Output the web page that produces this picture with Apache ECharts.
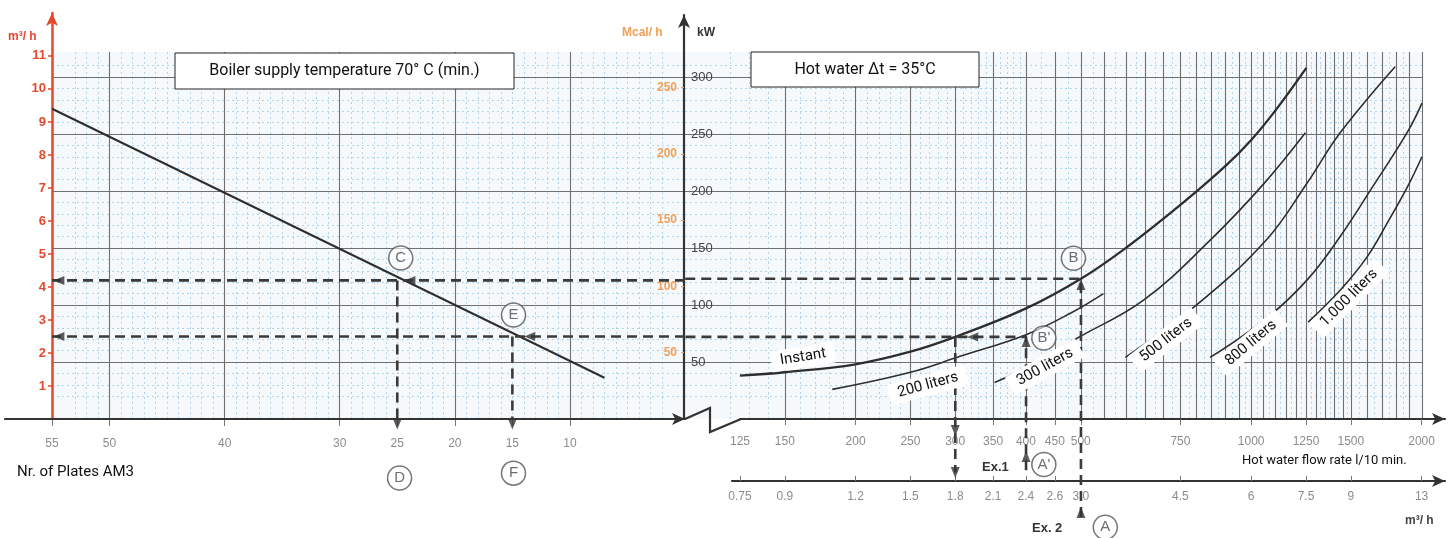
<!DOCTYPE html>
<html><head><meta charset="utf-8">
<script src="https://cdn.jsdelivr.net/npm/echarts@6/dist/echarts.min.js"></script>
<style>html,body{margin:0;padding:0;background:#fff}#c{width:1453px;height:538px}</style>
</head><body><div id="c"></div>
<script>
// ---------- data ----------
const plateTicks = [55, 50, 40, 30, 25, 20, 15, 10];
const boilerFlowTicks = [1, 2, 3, 4, 5, 6, 7, 8, 9, 10, 11];
const kWTicks = [50, 100, 150, 200, 250, 300];
const mcalTicks = [50, 100, 150, 200, 250];
const flowTicks = [125, 150, 200, 250, 300, 350, 400, 450, 500, 750, 1000, 1250, 1500, 2000];
const m3hTickLabels = ['0.75', '0.9', '1.2', '1.5', '1.8', '2.1', '2.4', '2.6', '3.0', '4.5', '6', '7.5', '9', '13'];

// plates (x) vs boiler flow m3/h (y)
const platesLine = [[55, 9.4], [7, 1.25]];

// hot water flow l/10 min (x) vs kW (y)
const instant = [[125, 38], [150, 41], [200, 48], [250, 59], [300, 72], [400, 97], [500, 123], [600, 150], [750, 188], [900, 222], [1000, 245], [1100, 270], [1250, 308]];
const liters200 = [[182, 26], [250, 41], [306, 55], [400, 74], [480, 93], [548, 110]];
const liters300 = [[352, 32], [420, 50], [493, 71], [644, 104], [850, 158], [1050, 206], [1245, 251]];
const liters500 = [[599, 54], [800, 100], [1062, 157], [1254, 207], [1434, 251], [1793, 309]];
const liters800 = [[845, 54], [1067, 89], [1254, 122], [1434, 160], [1638, 204], [1887, 252], [2000, 277]];
const liters1000 = [[1259, 85], [1434, 113], [1599, 142], [1737, 172], [1887, 204], [2000, 230]];

// worked examples
const ex2Right = [[500, -86], [500, 123], [100, 123]];
const ex2Left = [[0, 4.2], [55, 4.2]];
const ex2Down = [[25, 4.2], [25, 0]];
const ex1Right = [[400, -45], [400, 72], [100, 72]];
const ex1Down = [[300, 72], [300, -47]];
const ex1Left = [[0, 2.5], [55, 2.5]];
const ex1DownLeft = [[15, 2.5], [15, 0]];

// grid line positions
const flowGridMajor = [];
for (let v = 150; v <= 1500; v += 50) flowGridMajor.push(v);
for (let v = 1600; v <= 2000; v += 100) flowGridMajor.push(v);
const flowGridMinor = [];
for (let v = 110; v < 400; v += 10) if (v % 50 !== 0) flowGridMinor.push(v);
for (let v = 425; v < 1500; v += 50) flowGridMinor.push(v);
for (let v = 1550; v < 2000; v += 100) flowGridMinor.push(v);
const kWMinor = [];
for (let v = 10; v <= 320; v += 10) if (v % 50 !== 0) kWMinor.push(v);
const plateMinor = [];
for (let v = 1; v < 55; v += 1) if (v % 10 !== 0) plateMinor.push(v);

// ---------- styles ----------
const DARK = '#707070';
const MINOR = '#b2d5eb';
const RED = '#e5492d';
const ORANGE = '#f2a055';
const TICKGRAY = '#8c8c8c';
const NUMFONT = "'Liberation Sans', Arial, sans-serif";
const TXTFONT = "Roboto, 'Noto Sans', sans-serif";
const BG = '#f6f9fc';

function majorSplit() { return { show: true, showMinLine: false, showMaxLine: false, lineStyle: { color: DARK, width: 1.1 } }; }
function minorSplit() { return { show: true, showMinLine: false, showMaxLine: false, lineStyle: { color: MINOR, width: 1, type: [2, 3] } }; }
function nearestIdx(v) {
  let best = 0, bd = 1e9;
  flowTicks.forEach((t, i) => { const d = Math.abs(Math.log(v / t)); if (d < bd) { bd = d; best = i; } });
  return best;
}

const chart = echarts.init(document.getElementById('c'), null, { renderer: 'canvas' });

const grids = [
  { left: 52, top: 52, width: 633, height: 367, show: true, backgroundColor: BG, borderWidth: 0 },   // 0 left panel
  { left: 685, top: 52, width: 737, height: 367, show: true, backgroundColor: BG, borderWidth: 0 },  // 1 right panel
  { left: 52, top: 13, width: 1, height: 406 },   // 2 red m3/h axis
  { left: 684, top: 15, width: 1, height: 404 },  // 3 kW / Mcal axis
  { left: 5, top: 52, width: 680, height: 367 },  // 4 left x axis line
  { left: 740, top: 52, width: 705, height: 367 },// 5 flow axis l/10min
  { left: 732, top: 52, width: 713, height: 429 } // 6 flow axis m3/h
];

const xAxes = [
  // 0 plates labels
  { gridIndex: 0, type: 'value', min: 0, max: 55, inverse: true, z: 2,
    axisLine: { show: false },
    axisTick: { show: true, customValues: plateTicks, length: 7, lineStyle: { color: '#777' } },
    axisLabel: { show: true, customValues: plateTicks, margin: 19, color: TICKGRAY, fontFamily: NUMFONT, fontSize: 12 },
    splitLine: { show: false } },
  // 1 plates major grid
  { gridIndex: 0, type: 'value', min: 0, max: 55, inverse: true, interval: 10, z: 1,
    axisLine: { show: false }, axisLabel: { show: false }, axisTick: { show: false }, splitLine: majorSplit() },
  // 2 plates minor grid
  { gridIndex: 0, type: 'value', min: 0, max: 55, inverse: true, z: 0,
    axisLine: { show: false }, axisLabel: { show: false }, axisTick: { show: false, customValues: plateMinor }, splitLine: minorSplit() },
  // 3 flow major grid
  { gridIndex: 1, type: 'log', logBase: 10, min: 100, max: 2000, z: 1,
    axisLine: { show: false }, axisLabel: { show: false },
    axisTick: { show: false, customValues: flowGridMajor }, splitLine: { show: true, lineStyle: { color: DARK, width: 1.1 } } },
  // 4 flow minor grid
  { gridIndex: 1, type: 'log', logBase: 10, min: 100, max: 2000, z: 0,
    axisLine: { show: false }, axisLabel: { show: false },
    axisTick: { show: false, customValues: flowGridMinor }, splitLine: minorSplit() },
  // 5 flow axis l/10 min
  { gridIndex: 5, type: 'log', logBase: 10, min: 125, max: 2200, z: 3,
    axisLine: { show: true, lineStyle: { color: '#333', width: 2.2 }, symbol: ['none', 'arrow'], symbolSize: [9, 13] },
    axisTick: { show: true, customValues: flowTicks, length: 6, lineStyle: { color: '#777' } },
    axisLabel: { show: true, customValues: flowTicks, margin: 17, color: TICKGRAY, fontFamily: NUMFONT, fontSize: 12,
      formatter: v => String(flowTicks[nearestIdx(v)]) },
    splitLine: { show: false } },
  // 6 flow axis m3/h
  { gridIndex: 6, type: 'log', logBase: 10, min: 121, max: 2200, z: 3,
    axisLine: { show: true, lineStyle: { color: '#333', width: 2.2 }, symbol: ['none', 'arrow'], symbolSize: [9, 13] },
    axisTick: { show: true, customValues: flowTicks, length: 5, inside: true, lineStyle: { color: '#777' } },
    axisLabel: { show: true, customValues: flowTicks, margin: 10, color: TICKGRAY, fontFamily: NUMFONT, fontSize: 12,
      formatter: v => m3hTickLabels[nearestIdx(v)] },
    splitLine: { show: false } },
  // 7 left x axis line with arrow
  { gridIndex: 4, type: 'value', min: 0, max: 59.08, inverse: true, z: 3,
    axisLine: { show: true, lineStyle: { color: '#333', width: 2.2 }, symbol: ['none', 'arrow'], symbolSize: [9, 13] },
    axisTick: { show: false }, axisLabel: { show: false }, splitLine: { show: false } },
  // 8, 9 dummies
  { gridIndex: 2, type: 'value', show: false },
  { gridIndex: 3, type: 'value', show: false }
];

const yAxes = [
  // 0 boiler flow m3/h (data, left panel)
  { gridIndex: 0, type: 'value', min: 0, max: 11.12, show: false },
  // 1 kW major grid left
  { gridIndex: 0, type: 'value', min: 0, max: 321.9, interval: 50, z: 1,
    axisLine: { show: false }, axisLabel: { show: false }, axisTick: { show: false }, splitLine: majorSplit() },
  // 2 kW minor grid left
  { gridIndex: 0, type: 'value', min: 0, max: 321.9, z: 0,
    axisLine: { show: false }, axisLabel: { show: false }, axisTick: { show: false, customValues: kWMinor }, splitLine: minorSplit() },
  // 3 kW data + major grid right
  { gridIndex: 1, type: 'value', min: 0, max: 321.9, interval: 50, z: 1,
    axisLine: { show: false }, axisLabel: { show: false }, axisTick: { show: false }, splitLine: majorSplit() },
  // 4 kW minor grid right
  { gridIndex: 1, type: 'value', min: 0, max: 321.9, z: 0,
    axisLine: { show: false }, axisLabel: { show: false }, axisTick: { show: false, customValues: kWMinor }, splitLine: minorSplit() },
  // 5 red m3/h axis
  { gridIndex: 2, type: 'value', min: 0, max: 12.3, position: 'left', z: 3,
    axisLine: { show: true, lineStyle: { color: RED, width: 2.5 }, symbol: ['none', 'arrow'], symbolSize: [9, 13] },
    axisTick: { show: true, customValues: boilerFlowTicks, length: 4, lineStyle: { color: RED, width: 1.5 } },
    axisLabel: { show: true, customValues: boilerFlowTicks, margin: 6, color: RED, fontWeight: 'bold', fontFamily: NUMFONT, fontSize: 13 },
    splitLine: { show: false } },
  // 6 kW axis
  { gridIndex: 3, type: 'value', min: 0, max: 354.4, position: 'left', z: 3,
    axisLine: { show: true, lineStyle: { color: '#333', width: 2.2 }, symbol: ['none', 'arrow'], symbolSize: [9, 13] },
    axisTick: { show: false },
    axisLabel: { show: true, inside: true, customValues: kWTicks, margin: 7, color: '#444', fontFamily: NUMFONT, fontSize: 13 },
    splitLine: { show: false } },
  // 7 Mcal/h axis
  { gridIndex: 3, type: 'value', min: 0, max: 354.4 * 0.86, position: 'left', z: 3,
    axisLine: { show: false },
    axisTick: { show: true, customValues: mcalTicks, length: 3, lineStyle: { color: ORANGE } },
    axisLabel: { show: true, customValues: mcalTicks, margin: 7, color: ORANGE, fontWeight: 'bold', fontFamily: NUMFONT, fontSize: 12 },
    splitLine: { show: false } },
  // 8-10 dummies
  { gridIndex: 4, type: 'value', show: false },
  { gridIndex: 5, type: 'value', show: false },
  { gridIndex: 6, type: 'value', show: false }
];

function curve(name, data, width) {
  return { name, type: 'line', xAxisIndex: 3, yAxisIndex: 3, data, smooth: 0.4, symbol: 'none', silent: true,
    lineStyle: { color: '#2e2e2e', width: width || 1.6 }, z: 3 };
}
function dashed(data, left) {
  return { type: 'line', xAxisIndex: left ? 0 : 3, yAxisIndex: left ? 0 : 3, data, symbol: 'none', clip: false, silent: true,
    lineStyle: { color: '#3a3a3a', width: 2.6, type: [10, 6] }, z: 4 };
}
function arrows(data, left) {
  return { type: 'scatter', xAxisIndex: left ? 0 : 3, yAxisIndex: left ? 0 : 3, clip: false, silent: true,
    symbol: 'triangle', symbolSize: [9, 11], itemStyle: { color: '#333' }, z: 6,
    data: data.map(d => ({ value: [d[0], d[1]], symbolRotate: d[2] })) };
}
function circles(data, left) {
  return { type: 'scatter', xAxisIndex: left ? 0 : 3, yAxisIndex: left ? 0 : 3, clip: false, silent: true,
    symbol: 'circle', symbolSize: 24, z: 7,
    itemStyle: { color: 'rgba(255,255,255,0.75)', borderColor: '#555', borderWidth: 1.5 },
    label: { show: true, position: 'inside', formatter: p => p.name, color: '#4a4a4a', fontSize: 15, fontFamily: NUMFONT },
    data: data.map(d => ({ name: d[0], value: [d[1], d[2]] })) };
}

const series = [
  { type: 'line', xAxisIndex: 0, yAxisIndex: 0, data: platesLine, symbol: 'none', silent: true,
    lineStyle: { color: '#2e2e2e', width: 2 }, z: 3 },
  curve('Instant', instant, 2.3),
  curve('200 liters', liters200),
  curve('300 liters', liters300),
  curve('500 liters', liters500),
  curve('800 liters', liters800),
  curve('1.000 liters', liters1000),
  dashed(ex2Right), dashed(ex1Right), dashed(ex1Down),
  dashed(ex2Left, true), dashed(ex2Down, true), dashed(ex1Left, true), dashed(ex1DownLeft, true),
  arrows([[54.4, 4.2, 90], [23.9, 4.2, 90], [54.4, 2.5, 90], [13.5, 2.5, 90], [25, -0.15, 180], [15, -0.15, 180]], true),
  arrows([[322, 72, 90], [400, 68, 0], [400, -33, 0], [300, -10, 180], [300, -47, 180], [500, 118, 0], [500, -82, 0]]),
  circles([['C', 24.7, 4.88], ['E', 14.9, 3.15], ['D', 24.8, -1.79], ['F', 14.9, -1.64]], true),
  circles([['B', 485, 141], ["B'", 430, 71], ["A'", 430, -40], ['A', 552, -95]])
];

function box(x, y, w, h, text, size) {
  return [
    { type: 'rect', shape: { x, y, width: w, height: h }, style: { fill: '#fff', stroke: '#222', lineWidth: 1 }, z: 50 },
    { type: 'text', x: x + w / 2, y: y + h / 2, z: 51,
      style: { text, fill: '#111', font: size + 'px ' + TXTFONT, align: 'center', verticalAlign: 'middle' } }
  ];
}
function tag(text, cx, cy, deg, size) {
  return { type: 'text', x: cx, y: cy, rotation: deg * Math.PI / 180, z: 52,
    style: { text, fill: '#111', font: (size || 15) + 'px ' + TXTFONT, align: 'center', verticalAlign: 'middle',
      backgroundColor: '#fff', padding: [3, 9] } };
}
function label(text, x, y, opts) {
  return { type: 'text', x, y, z: 53,
    style: Object.assign({ text, fill: '#111', font: '15px ' + TXTFONT, align: 'left', verticalAlign: 'middle' }, opts || {}) };
}

const graphics = [].concat(
  box(175, 53, 339, 36, 'Boiler supply temperature 70° C (min.)', 16),
  box(751, 52, 228, 35, 'Hot water Δt = 35°C', 16),
  [
    tag('Instant', 803, 357, 9),
    tag('200 liters', 928, 385, 15),
    tag('300 liters', 1045, 367, 29),
    tag('500 liters', 1166, 340, 38),
    tag('800 liters', 1251, 343, 40),
    tag('1.000 liters', 1349, 298, 45),
    label('Nr. of Plates AM3', 17, 472, { font: '15px ' + TXTFONT }),
    { type: 'text', x: 1238, y: 461, z: 53,
      style: { text: 'Hot water flow rate l/10 min.', fill: '#111', font: '13px ' + TXTFONT, align: 'left', verticalAlign: 'middle',
        backgroundColor: '#fff', padding: [2, 4] } },
    label('m³/ h', 8, 37, { fill: RED, font: 'bold 12px ' + NUMFONT }),
    label('Mcal/ h', 622, 33, { fill: ORANGE, font: 'bold 12px ' + NUMFONT }),
    label('kW', 697, 33, { fill: '#333', font: 'bold 12px ' + NUMFONT }),
    label('m³/ h', 1405, 521, { fill: '#444', font: 'bold 12px ' + NUMFONT }),
    label('Ex.1', 982, 467, { fill: '#333', font: 'bold 13px ' + NUMFONT }),
    label('Ex. 2', 1032, 528, { fill: '#333', font: 'bold 13px ' + NUMFONT }),
    { type: 'polyline', z: 20, shape: { points: [[685, 419], [710, 408], [710, 432], [741, 419]] },
      style: { stroke: '#333', lineWidth: 2.2, fill: null } },
    { type: 'rect', z: 19, shape: { x: 686, y: 420, width: 56, height: 14 }, style: { fill: '#fff' } }
  ]
);

chart.setOption({
  backgroundColor: '#fff',
  animation: false,
  grid: grids,
  xAxis: xAxes,
  yAxis: yAxes,
  series,
  graphic: graphics
});
</script>
</body></html>
